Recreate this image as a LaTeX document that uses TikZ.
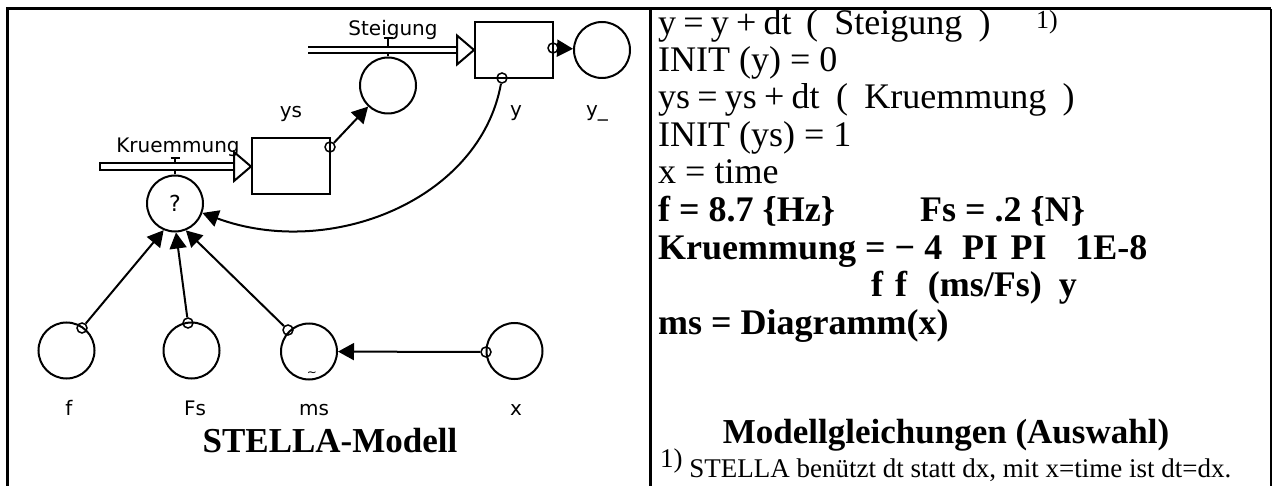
\documentclass[tikz,border=0pt]{standalone}
\usepackage{fontspec}
\setmainfont{Liberation Serif}
\setsansfont{DejaVu Sans}
\usetikzlibrary{arrows.meta,positioning,calc}
\tikzset{
  stock/.style={draw, line width=2pt, minimum width=78pt, minimum height=56pt, inner sep=0pt},
  aux/.style={draw, circle, line width=2pt, minimum size=56pt, inner sep=0pt,
    font=\sffamily\fontsize{22}{24}\selectfont},
  port/.style={draw, circle, line width=1.5pt, minimum size=10pt, inner sep=0pt},
  conn/.style={line width=2pt, -{Triangle[length=16pt,width=17pt]}},
  pipe/.style={double=white, double distance=4.5pt, line width=2.2pt},
  valve/.style={line width=2pt},
  lbl/.style={font=\sffamily\fontsize{20}{22}\selectfont, anchor=base, inner sep=0pt},
  eq/.style={font=\fontsize{36}{38}\selectfont, anchor=base west, inner sep=0pt},
  eqb/.style={eq, font=\bfseries\fontsize{36}{38}\selectfont},
  frame/.style={line width=3pt},
}
\newcommand{\gap}{\hspace{0.2em}}
\newcommand{\pgap}{\hspace{0.45em}}
\begin{document}
\begin{tikzpicture}[x=1pt, y=-1pt]
  \useasboundingbox (0,0) rectangle (1273,486);
  % frame
  \draw[frame] (7,486) -- (7,9) -- (1271,9);
  \draw[frame] (650,9) -- (650,486);
  \draw[line width=1.5pt] (1271,9) -- (1271,486);

  % stocks and converters
  \node[stock] (y) at (514,50) {};
  \node[stock] (ys) at (291,166.5) {};
  \node[aux] (yd) at (602,50) {};
  \node[aux] (steig) at (388,85.5) {};
  \node[aux] (kruem) at (175,203.5) {?};
  \node[aux] (f) at (66.5,350.5) {};
  \node[aux] (Fs) at (191.5,350.5) {};
  \node[aux] (ms) at (309,351.5) {};
  \node[aux] (x) at (514.5,351) {};
  \node[font=\sffamily\fontsize{12}{12}\selectfont, inner sep=0pt] (ms-tilde) at (312,374) {\textasciitilde};

  % flows
  \coordinate (y-src) at (308,50);
  \coordinate (ys-src) at (100,166.5);
  \draw[valve] (steig.north) -- ++(0,-18) coordinate (steig-v) ++(-4.5,0) -- ++(9,0);
  \draw[valve] (kruem.north) -- ++(0,-16) coordinate (kruem-v) ++(-4.5,0) -- ++(9,0);
  \draw[pipe] (y-src) -- ($(y.west)+(-17,0)$);
  \draw[line width=2pt, fill=white] (y.west) -- ++(-17,-14.5) -- ++(0,29) -- cycle;
  \draw[pipe] (ys-src) -- ($(ys.west)+(-17,0)$);
  \draw[line width=2pt, fill=white] (ys.west) -- ++(-17,-14.5) -- ++(0,29) -- cycle;
  \draw[valve] ($(ys-src)+(0,-4.5)$) -- ($(ys-src)+(0,4.5)$);

  % ports
  \node[port] (y-out) at (553,48) {};
  \node[port] (y-fb) at (502,78) {};
  \node[port] (ys-out) at (330,147) {};
  \node[port] (f-out) at (82,328) {};
  \node[port] (Fs-out) at (188,323) {};
  \node[port] (ms-out) at (288,330) {};
  \node[port] (x-out) at (486,352) {};

  % connectors
  \draw[conn] (y-out) -- (yd);
  \draw[conn] (ys-out) -- (steig);
  \draw[conn] (y-fb) .. controls (480,200) and (330,260) .. (kruem.-19);
  \draw[conn] (f-out) -- (kruem.-113);
  \draw[conn] (Fs-out) -- (kruem.-88);
  \draw[conn] (ms-out) -- (kruem.-68);
  \draw[conn] (x-out) -- (ms);

  % labels
  \node[lbl] (steig-l) at (393,36) {Steigung};
  \node[lbl] (kruem-l) at (178,153) {Kruemmung};
  \node[lbl] (ys-l) at (291,118) {ys};
  \node[lbl] (y-l) at (516,117) {y};
  \node[lbl] (yd-l) at (597,117) {y\_};
  \node[lbl] (f-l) at (69,415) {f};
  \node[lbl] (Fs-l) at (195,415) {Fs};
  \node[lbl] (ms-l) at (314,415) {ms};
  \node[lbl] (x-l) at (516,415) {x};
  \node[font=\bfseries\fontsize{35}{36}\selectfont, anchor=base, inner sep=0pt] (stella) at (330,452) {STELLA-Modell};

  % equations
  \node[eq] (l1) at (658,35) {y\gap=\gap y\gap+\gap dt};
  \node[eq] (l1b) at (806,35) {(\pgap Steigung\pgap)};
  \node[eq, font=\fontsize{26}{26}\selectfont] (l1c) at (1036,29) {1)};
  \node[eq] (l2) at (658,72) {INIT (y) = 0};
  \node[eq] (l3) at (658,109) {ys\gap=\gap ys\gap+\gap dt};
  \node[eq] (l3b) at (836,109) {(\pgap Kruemmung\pgap)};
  \node[eq] (l4) at (658,146.5) {INIT (ys) = 1};
  \node[eq] (l5) at (658,184) {x = time};
  \node[eqb] (l6) at (658,221.5) {f = 8.7 \{Hz\}};
  \node[eqb] (l6b) at (920,221.5) {Fs = .2 \{N\}};
  \node[eqb] (l7) at (658,259) {Kruemmung = − 4\hspace{0.55em}PI\hspace{0.35em}PI\hspace{0.8em}1E-8};
  \node[eqb] (l8) at (871,296.5) {f\hspace{0.33em}f\hspace{0.58em}(ms/Fs)\hspace{0.47em}y};
  \node[eqb] (l9) at (658,334) {ms = Diagramm(x)};
  \node[font=\bfseries\fontsize{35}{36}\selectfont, anchor=base, inner sep=0pt] (modell) at (946,443) {Modellgleichungen (Auswahl)};
  \node[eq, font=\fontsize{27}{28}\selectfont] (foot) at (660,477) {\raisebox{0.35em}{1)} STELLA benützt dt statt dx, mit x=time ist dt=dx.};
\end{tikzpicture}
\end{document}
